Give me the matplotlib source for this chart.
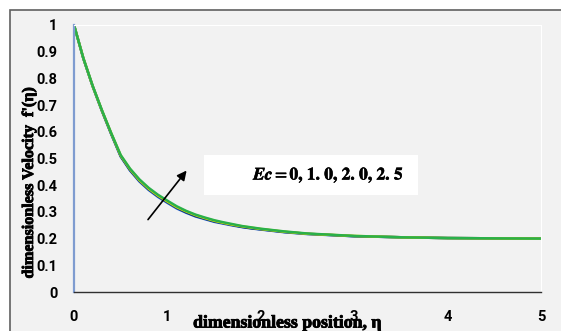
import matplotlib
matplotlib.use("Agg")
import matplotlib.pyplot as plt
from matplotlib.patches import Rectangle
import matplotlib.patheffects as pe

eta = [0, 0.1, 0.2, 0.3, 0.4, 0.5, 0.6, 0.7, 0.8, 0.9, 1.0, 1.1, 1.2, 1.3, 1.4, 1.5,
       1.6, 1.7, 1.8, 1.9, 2.0, 2.25, 2.5, 3.0, 3.5, 4.0, 4.5, 5.0]
fp_ec0 = [1.0, 0.875, 0.770, 0.677, 0.590, 0.507, 0.455, 0.414, 0.382, 0.356, 0.334,
          0.313, 0.297, 0.283, 0.273, 0.263, 0.256, 0.249, 0.243, 0.238, 0.234, 0.224,
          0.217, 0.209, 0.205, 0.202, 0.201, 0.200]
fp_ec1 = [1.0, 0.875, 0.771, 0.678, 0.591, 0.509, 0.457, 0.417, 0.385, 0.359, 0.337,
          0.316, 0.299, 0.285, 0.275, 0.265, 0.258, 0.251, 0.244, 0.239, 0.235, 0.225,
          0.218, 0.209, 0.205, 0.202, 0.201, 0.200]
fp_ec2 = [1.0, 0.876, 0.771, 0.679, 0.593, 0.511, 0.460, 0.419, 0.387, 0.361, 0.339,
          0.318, 0.302, 0.288, 0.277, 0.267, 0.259, 0.252, 0.246, 0.241, 0.236, 0.226,
          0.218, 0.210, 0.205, 0.202, 0.201, 0.200]
fp_ec25 = [1.0, 0.876, 0.772, 0.680, 0.594, 0.513, 0.462, 0.422, 0.390, 0.364, 0.342,
           0.321, 0.304, 0.290, 0.279, 0.269, 0.261, 0.254, 0.247, 0.242, 0.237, 0.227,
           0.219, 0.210, 0.205, 0.202, 0.201, 0.200]
series = [fp_ec0, fp_ec1, fp_ec2, fp_ec25]
colors = ["#1a5ccc", "#10306a", "#e6e600", "#2ab04a"]
xticks = [0, 1, 2, 3, 4, 5]
yticks = [0, 0.1, 0.2, 0.3, 0.4, 0.5, 0.6, 0.7, 0.8, 0.9, 1]
ytick_labels = ["0", "0.1", "0.2", "0.3", "0.4", "0.5", "0.6", "0.7", "0.8", "0.9", "1"]
sp = r"\hspace{0.15}"
annot = (r"$\mathbfit{Ec} = \mathbf{0," + sp + "1." + sp + "0," + sp + "2." + sp
         + "0," + sp + "2." + sp + "5}$")

plt.rcParams["mathtext.fontset"] = "stix"

W, H = 561, 331
fig = plt.figure(figsize=(W / 100, H / 100), dpi=100)
fig.patch.set_facecolor("white")
frame = Rectangle((10 / W, -0.05), 1.2, (H - 10) / H + 0.05, transform=fig.transFigure,
                  facecolor="#f2f2f2", edgecolor="#606060", linewidth=1.2, zorder=-5)
fig.add_artist(frame)

ax = fig.add_axes([74 / W, (H - 292) / H, (541 - 74) / W, (292 - 25) / H])
ax.set_zorder(1)
ax.set_facecolor("#f2f2f2")
for s, c in zip(series, colors):
    ax.plot(eta, s, color=c, lw=1.8, solid_capstyle="butt", solid_joinstyle="round")

ax.set_xlim(0, 5)
ax.set_ylim(0, 1)
ax.set_xticks(xticks)
ax.set_yticks(yticks)
ax.set_yticklabels(ytick_labels)
ax.tick_params(length=0, labelsize=10.5)
for lab in ax.get_xticklabels() + ax.get_yticklabels():
    lab.set_fontfamily(["Roboto", "DejaVu Sans"])
    lab.set_fontweight("bold")
ax.tick_params(axis="x", pad=13)
ax.tick_params(axis="y", pad=12)

ax.spines["left"].set_color("#7f9cd0")
ax.spines["left"].set_linewidth(1.6)
ax.spines["bottom"].set_color("#303030")
ax.spines["bottom"].set_linewidth(1.0)
ax.spines["top"].set_color("white")
ax.spines["right"].set_color("white")

stroke = [pe.withStroke(linewidth=0.6, foreground="black")]
ax.set_xlabel("dimensionless position, η", family="Liberation Serif", weight="bold",
              fontsize=12.8, va="center", path_effects=stroke)
ax.xaxis.set_label_coords((287 - 74) / 467, (292 - 323) / 267)
ax.set_ylabel("dimensionless Velocity  f'(η)", family="Liberation Serif", weight="bold",
              fontsize=11.6, va="center", path_effects=stroke)
ax.yaxis.set_label_coords((29 - 74) / 467, (292 - 183) / 267)

ax.annotate("", xy=(1.224, 0.463), xytext=(0.774, 0.263),
            arrowprops=dict(arrowstyle="-|>", color="black", lw=1.2, mutation_scale=14))

ax.add_patch(Rectangle((1.392, 0.363), 2.291, 0.150, facecolor="white",
                       edgecolor="none", zorder=3))
ax.text(2.73, 0.438, annot, ha="center", va="center", fontsize=12.5, zorder=4,
        path_effects=[pe.withStroke(linewidth=0.4, foreground="black")])

fig.savefig("out.png", dpi=100)
